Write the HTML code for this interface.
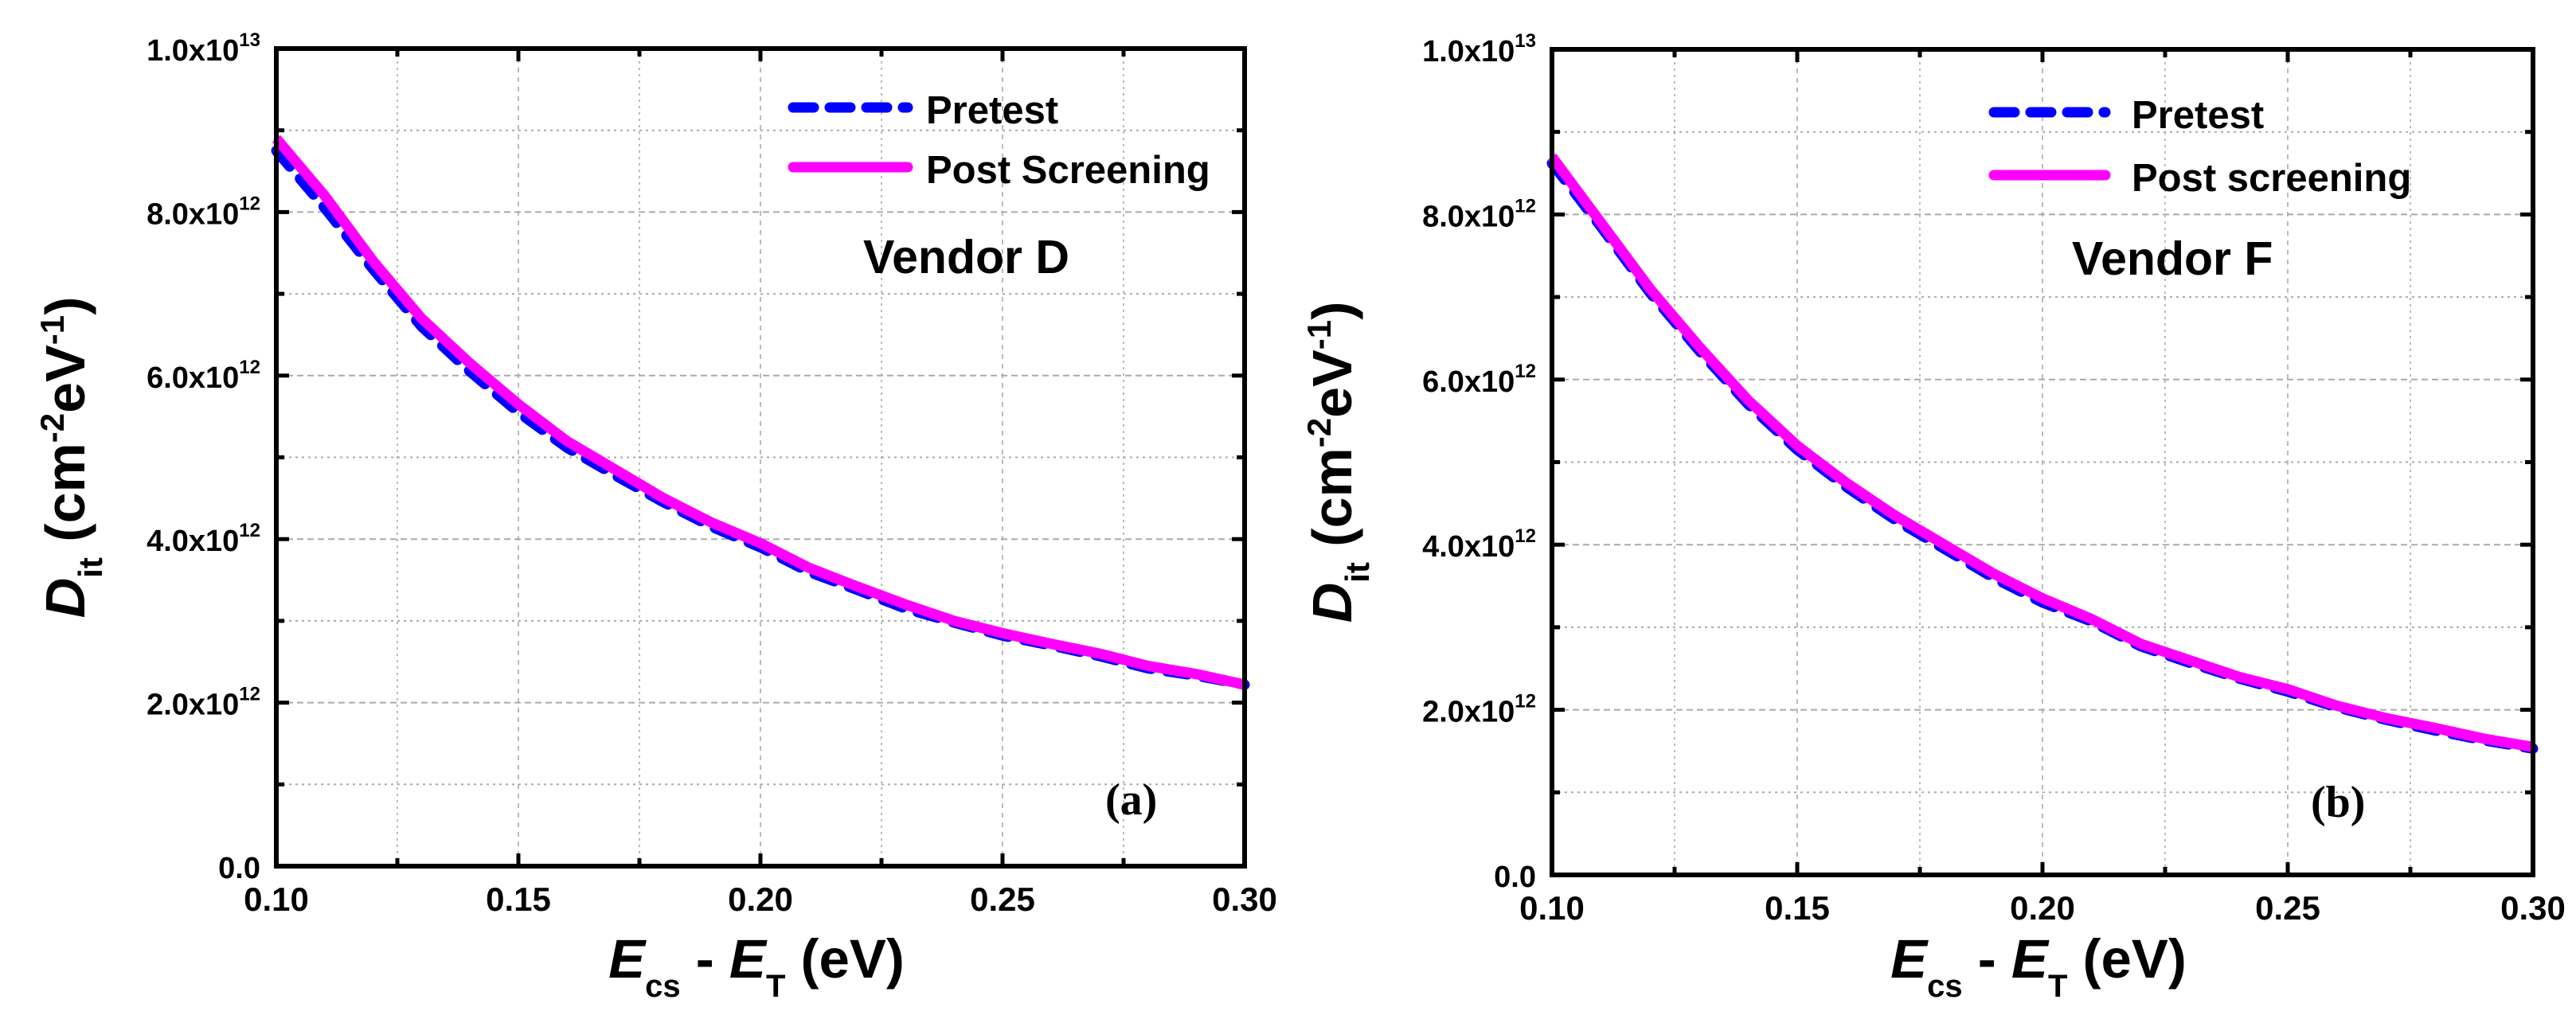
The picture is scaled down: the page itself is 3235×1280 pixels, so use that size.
<!DOCTYPE html>
<html><head><meta charset="utf-8"><style>
html,body{margin:0;padding:0;background:#fff;}
svg{display:block;font-family:"Liberation Sans",Arial,sans-serif;font-weight:bold;}
</style></head><body>
<svg id="fig" width="3235" height="1280" viewBox="0 0 3235 1280" xmlns="http://www.w3.org/2000/svg"></svg>
<script>
const xValues = [0.10,0.11,0.12,0.13,0.14,0.15,0.16,0.17,0.18,0.19,0.20,0.21,0.22,0.23,0.24,0.25,0.26,0.27,0.28,0.29,0.30];
const pretestA = [8.75,8.05,7.3,6.6,6.05,5.55,5.12,4.78,4.45,4.15,3.9,3.6,3.38,3.15,2.98,2.82,2.7,2.57,2.42,2.33,2.22];
const postA = [8.9,8.2,7.4,6.7,6.15,5.65,5.2,4.85,4.5,4.2,3.95,3.65,3.42,3.2,3.0,2.85,2.72,2.6,2.45,2.35,2.22];
const pretestB = [8.62,7.85,7.05,6.35,5.7,5.15,4.7,4.3,3.95,3.6,3.3,3.07,2.77,2.57,2.38,2.22,2.03,1.88,1.75,1.63,1.53];
const postB = [8.7,7.9,7.1,6.4,5.75,5.2,4.75,4.35,4.0,3.65,3.35,3.1,2.8,2.6,2.4,2.25,2.05,1.9,1.78,1.65,1.55];
const xTicks = ["0.10","0.15","0.20","0.25","0.30"];
const yTicks = ["0.0","2.0x10","4.0x10","6.0x10","8.0x10","1.0x10"];
const yExp = ["","12","12","12","12","13"];

const NS="http://www.w3.org/2000/svg";
const svg=document.getElementById('fig');
function mk(tag,attrs,parent,txt){const e=document.createElementNS(NS,tag);for(const k in attrs)e.setAttribute(k,attrs[k]);if(txt!==undefined)e.textContent=txt;(parent||svg).appendChild(e);return e;}

function panel(P){
  const g=mk('g',{});
  
  
  const X=v=>P.l+(v-0.10)/0.20*(P.r-P.l);
  const Y=v=>P.b-v/10*(P.b-P.t);
  // grid
  for(let i=1;i<8;i++){const v=0.10+i*0.025;
    const gl=mk('line',{x1:X(v),x2:X(v),y1:P.t,y2:P.b,stroke:'#bbb','stroke-width':2,'stroke-dasharray':(i%2==0?'6,6':'3,5')},g);
    }
  for(let i=1;i<10;i++){
    const gl=mk('line',{x1:P.l,x2:P.r,y1:Y(i),y2:Y(i),stroke:'#aaa','stroke-width':2,'stroke-dasharray':(i%2==0?'8,5':'3,5')},g);
    }
  // series
  const pts=a=>a.map((v,i)=>X(xValues[i])+','+Y(v)).join(' ');
  const pre=mk('polyline',{points:pts(P.pre),fill:'none',stroke:'#0000ff','stroke-width':13,'stroke-dasharray':'26,20','stroke-linecap':'round','stroke-linejoin':'round'},g);
  
  const post=mk('polyline',{points:pts(P.post),fill:'none',stroke:'#ff00ff','stroke-width':13,'stroke-linejoin':'round'},g);
  
  // frame
  const fr=mk('rect',{x:P.l,y:P.t,width:P.r-P.l,height:P.b-P.t,fill:'none',stroke:'#000','stroke-width':6},g);
  
  // ticks
  for(let i=0;i<=8;i++){const v=0.10+i*0.025,L=i%2==0?16:10;
    mk('line',{x1:X(v),x2:X(v),y1:P.b,y2:P.b-L,stroke:'#000','stroke-width':5},g);
    mk('line',{x1:X(v),x2:X(v),y1:P.t,y2:P.t+L,stroke:'#000','stroke-width':5},g);}
  for(let i=0;i<=10;i++){const L=i%2==0?16:10;
    mk('line',{x1:P.l,x2:P.l+L,y1:Y(i),y2:Y(i),stroke:'#000','stroke-width':5},g);
    mk('line',{x1:P.r,x2:P.r-L,y1:Y(i),y2:Y(i),stroke:'#000','stroke-width':5},g);}
  xTicks.forEach((t,i)=>{const e=mk('text',{x:X(parseFloat(t)),y:P.b+56,'font-size':42,'text-anchor':'middle'},g,t);
    });
  yTicks.forEach((t,i)=>{const e=mk('text',{x:P.l-20,y:Y(i*2)+15,'font-size':38,'text-anchor':'end'},g);
    
    const a=mk('tspan',{},e,t);
    if(yExp[i]){mk('tspan',{dy:-18,'font-size':24},e,yExp[i]);}});
  // axis titles
  const xt=mk('text',{x:(P.l+P.r)/2-5,y:1228,'font-size':69,'text-anchor':'middle'},g);
  
  mk('tspan',{'font-style':'italic'},xt,'E');mk('tspan',{dy:24,'font-size':40},xt,'cs');
  mk('tspan',{dy:-24},xt,' - ');mk('tspan',{'font-style':'italic'},xt,'E');
  mk('tspan',{dy:24,'font-size':40},xt,'T');mk('tspan',{dy:-24},xt,' (eV)');
  const yt=mk('text',{x:0,y:0,'font-size':70,'text-anchor':'middle',transform:`translate(${P.yx},${(P.t+P.b)/2}) rotate(-90)`},g);
  
  mk('tspan',{'font-style':'italic'},yt,'D');mk('tspan',{dy:22,'font-size':42},yt,'it');
  mk('tspan',{dy:-22},yt,' (cm');mk('tspan',{dy:-26,'font-size':42},yt,'-2');
  mk('tspan',{dy:26},yt,'eV');mk('tspan',{dy:-26,'font-size':42},yt,'-1');mk('tspan',{dy:26},yt,')');
  // legend
  const lg=mk('g',{},g);
  const l1=mk('line',{x1:P.lx1,x2:P.lx2,y1:P.ly1,y2:P.ly1,stroke:'#0000ff','stroke-width':13,'stroke-dasharray':'26,20','stroke-linecap':'round'},lg);
  
  const t1=mk('text',{x:P.tx,y:P.ly1+20,'font-size':49},lg,'Pretest');
  
  const l2=mk('line',{x1:P.lx1,x2:P.lx2,y1:P.ly2,y2:P.ly2,stroke:'#ff00ff','stroke-width':13,'stroke-linecap':'round'},lg);
  
  const t2=mk('text',{x:P.tx,y:P.ly2+20,'font-size':49},lg,P.postLabel);
  
  const vd=mk('text',{x:P.vx,y:P.vy,'font-size':59},g,P.vendor);
  
  const pl=mk('text',{x:P.px,y:P.py,'font-size':56,'font-family':'"Liberation Serif",serif'},g,P.panel);
  
}
panel({name:'panel-a',l:347,r:1563,t:61,b:1088,pre:pretestA,post:postA,yx:106,lx1:996,lx2:1140,ly1:135,ly2:210,tx:1163,postLabel:'Post Screening',vendor:'Vendor D',vx:1084,vy:343,panel:'(a)',px:1388,py:1023});
panel({name:'panel-b',l:1949,r:3181,t:62,b:1099,pre:pretestB,post:postB,yx:1697,lx1:2504,lx2:2644,ly1:141,ly2:220,tx:2677,postLabel:'Post screening',vendor:'Vendor F',vx:2602,vy:345,panel:'(b)',px:2902,py:1026});
</script>
</body></html>
